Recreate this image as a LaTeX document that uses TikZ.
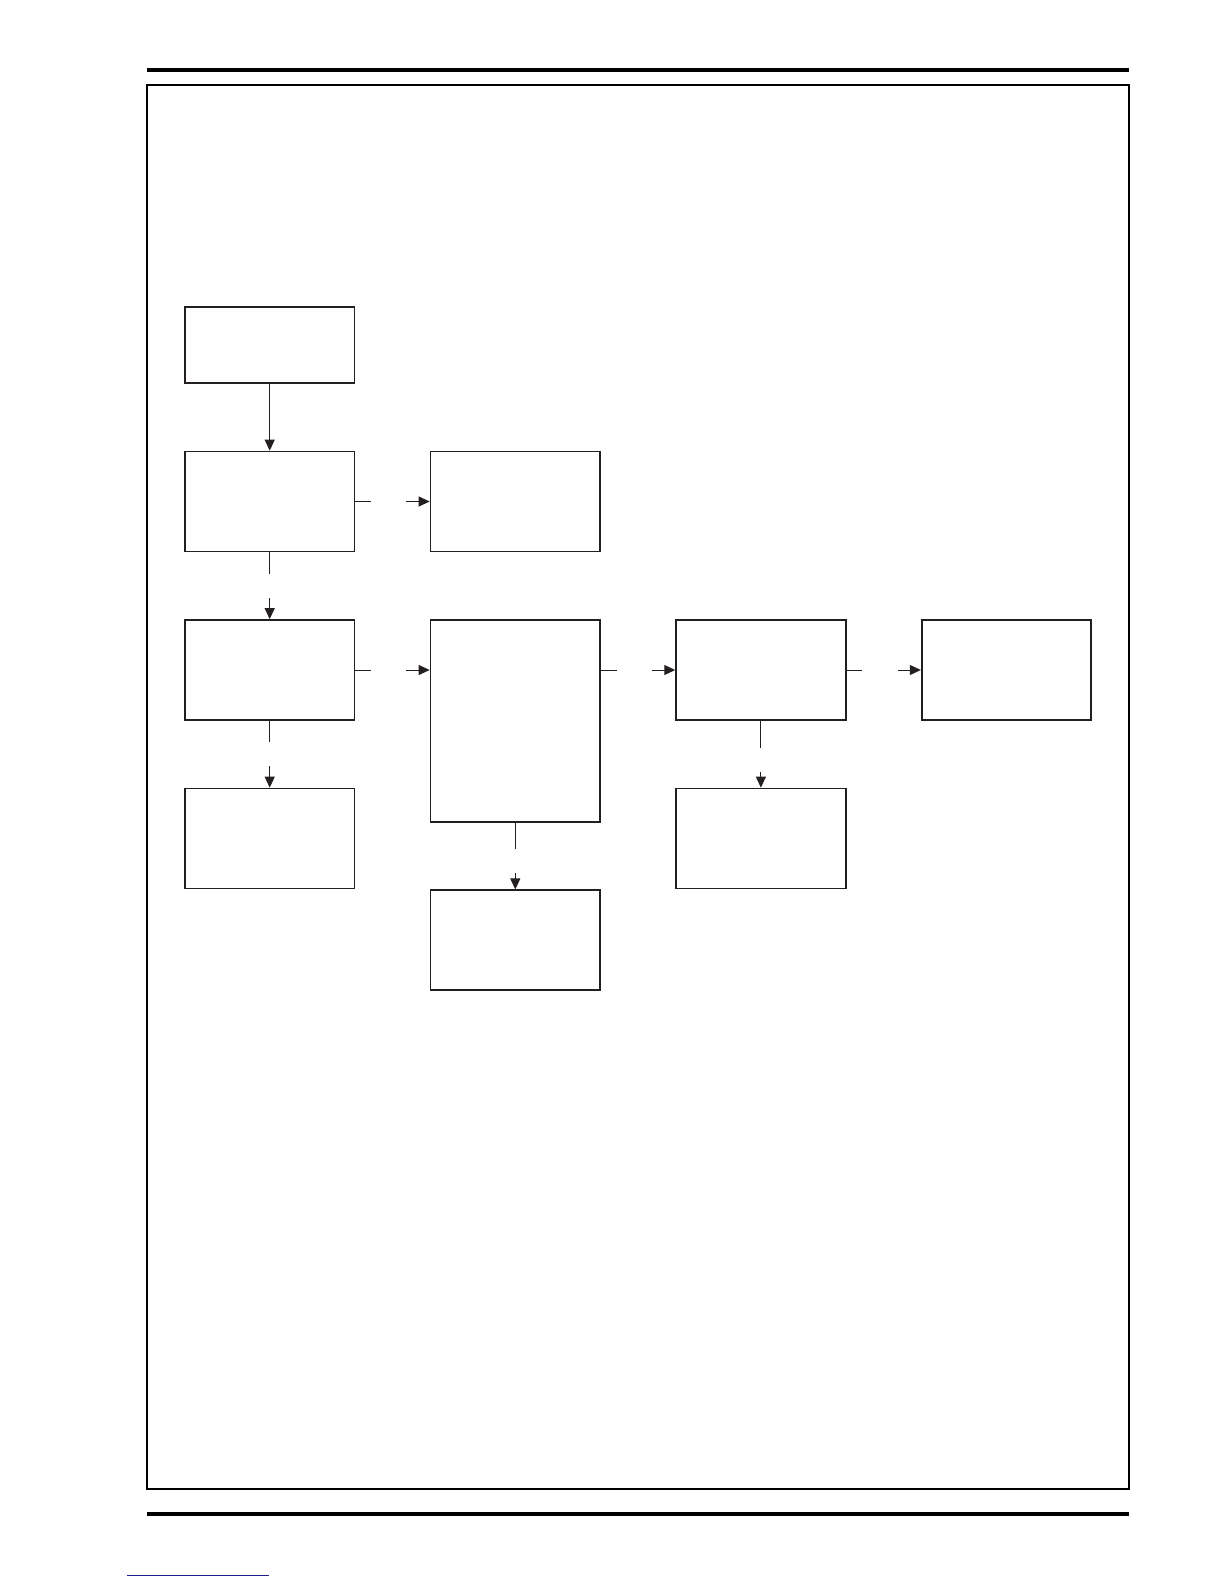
\documentclass[tikz,border=0pt]{standalone}
\usepackage{tikz}
\usepackage{xcolor}
\usetikzlibrary{arrows.meta}
\definecolor{ink}{RGB}{35,31,32}
\definecolor{linkblue}{RGB}{30,30,140}
\tikzstyle{block} = [rectangle, minimum width=84.8pt, minimum height=50pt, inner sep=0pt, draw=ink, line width=0.85pt]
\tikzstyle{arrow} = [line width=0.5pt, draw=ink, -{Triangle[length=5.5pt,width=5pt]}]
\tikzstyle{hgap} = [fill=white, inner sep=0pt, minimum width=17.7pt, minimum height=3pt]
\tikzstyle{vgap} = [fill=white, inner sep=0pt, minimum width=3pt, minimum height=12pt]

\begin{document}
\begin{tikzpicture}[node distance=84.25pt]
\useasboundingbox (0pt,0pt) rectangle (612pt,-792pt);

% page rules and frame
\draw [line width=2pt] (73.5pt,-35pt) -- (564.5pt,-35pt);
\draw [line width=0.6pt] (73.5pt,-42.5pt) rectangle (564.5pt,-744.5pt);
\draw [line width=2pt] (73.5pt,-757pt) -- (564.5pt,-757pt);
\draw [line width=0.5pt, linkblue] (63.4pt,-787.5pt) -- (134.5pt,-787.5pt);

\node (start) [block, minimum height=37.9pt] at (134.85pt,-172.5pt) {};
\node (step1) [block, below of=start, yshift=6pt] {};
\node (side1) [block, right of=step1, xshift=38.55pt] {};
\node (step2) [block, below of=step1] {};
\node (side2) [block, below of=step2] {};
\node (core) [block, minimum height=101pt, right of=step2, xshift=38.55pt, yshift=-25.5pt] {};
\node (core2) [block, below of=core, yshift=-25.4pt] {};
\node (step3) [block, right of=core, xshift=38.55pt, yshift=25.5pt] {};
\node (side3) [block, below of=step3] {};
\node (finish) [block, right of=step3, xshift=38.55pt] {};

\draw [arrow] (start) -- (step1);
\draw [arrow] (step1) -- node[hgap, pos=0.45] {} (side1);
\draw [arrow] (step1) -- node[vgap] {} (step2);
\draw [arrow] (step2) -- node[vgap] {} (side2);
\draw [arrow] (step2.east) -- node[hgap, pos=0.45] {} (step2.east -| core.west);
\draw [arrow] (core.south) -- node[vgap, pos=0.58] {} (core2.north);
\draw [arrow] (step3.west -| core.east) -- node[hgap, pos=0.45] {} (step3.west);
\draw [arrow] (step3) -- node[vgap, pos=0.58] {} (side3);
\draw [arrow] (step3) -- node[hgap, pos=0.45] {} (finish);
\end{tikzpicture}
\end{document}
